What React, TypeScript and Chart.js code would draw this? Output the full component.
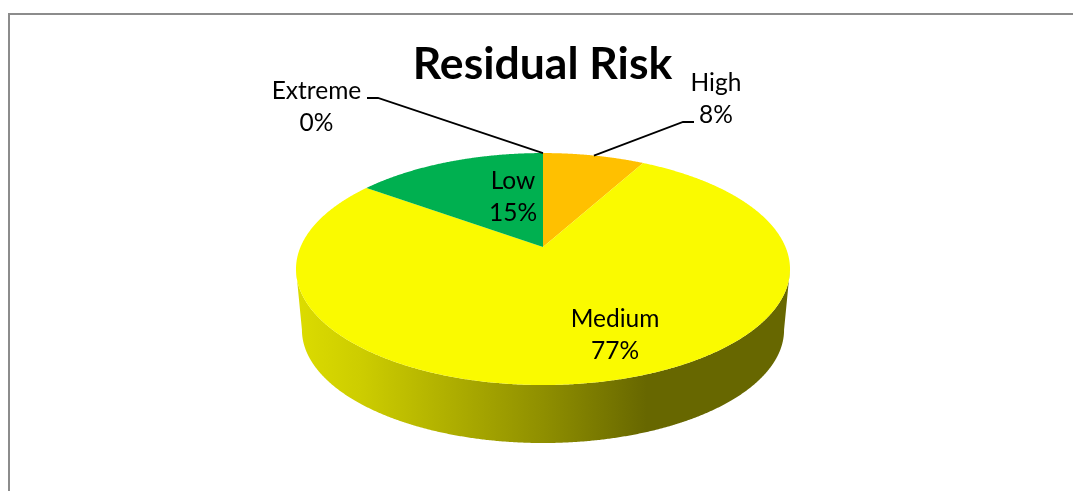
import React, { useEffect, useRef } from "react";
import { Chart, registerables } from "chart.js";

Chart.register(...registerables);

// Slices run clockwise from twelve o'clock.
const categories = ["High", "Medium", "Low", "Extreme"];
const percentages = [8, 77, 15, 0];
const sliceColors = ["#FFC000", "#FAFA00", "#00B050", "#C00000"];
const chartTitle = "Residual Risk";

const WIDTH = 1073;
const HEIGHT = 491;
const FONT = "Lato, 'Open Sans', sans-serif";

// Perspective view of the disc: apex of the slices, half-sizes and foreshortening.
const APEX = { x: 543, y: 247 };
const PERSPECTIVE = 0.19;
const RADIUS_X = 242.5;
const RADIUS_Y = 111.8;
const FLOOR = { dropY: 61.3, scale: 0.976 };

// Label centres, with an optional leader ending on the slice's rim.
const labelPlacement: Record<string, { x: number; y: number; leader?: [number, number][] }> = {
  High: { x: 716, y: 83, leader: [[694, 122], [683, 122]] },
  Medium: { x: 615, y: 319 },
  Low: { x: 513, y: 181 },
  Extreme: { x: 316.5, y: 91, leader: [[367, 98], [378, 98]] },
};
const LINE_GAP = 32;

// Chart.js angle (radians, -PI/2 at the top) to a point on the perspective rim.
function rimPoint(angle: number, floor = false) {
  const u = Math.cos(angle);
  const v = Math.sin(angle);
  const d = 1 - PERSPECTIVE * v;
  const s = floor ? FLOOR.scale : 1;
  return {
    x: APEX.x + (s * RADIUS_X * u) / d,
    y: APEX.y + (floor ? FLOOR.dropY : 0) + (s * RADIUS_Y * v) / d,
  };
}

function rimPath(ctx: CanvasRenderingContext2D, from: number, to: number, floor = false) {
  const steps = Math.max(2, Math.ceil(Math.abs(to - from) / 0.005));
  for (let i = 0; i <= steps; i++) {
    const p = rimPoint(from + ((to - from) * i) / steps, floor);
    ctx.lineTo(p.x, p.y);
  }
}

// Side wall shading, as a brightness factor across the disc's width.
function wallGradient(ctx: CanvasRenderingContext2D, hex: string) {
  const r = parseInt(hex.slice(1, 3), 16);
  const g = parseInt(hex.slice(3, 5), 16);
  const b = parseInt(hex.slice(5, 7), 16);
  const left = APEX.x - 247;
  const span = 494;
  const gradient = ctx.createLinearGradient(left, 0, left + span, 0);
  const stops: [number, number][] = [
    [0, 0.88],
    [0.13, 0.82],
    [0.5, 0.57],
    [0.71, 0.41],
    [1, 0.41],
  ];
  for (const [at, f] of stops) {
    gradient.addColorStop(at, `rgb(${r * f},${g * f},${b * f})`);
  }
  return gradient;
}

const perspectivePie = {
  id: "perspectivePie",
  beforeDraw(chart: Chart) {
    const { ctx } = chart;
    ctx.save();
    ctx.fillStyle = "#FFFFFF";
    ctx.fillRect(0, 0, WIDTH, HEIGHT);
    ctx.strokeStyle = "#8C8C8C";
    ctx.lineWidth = 2;
    ctx.beginPath();
    ctx.moveTo(9, HEIGHT);
    ctx.lineTo(9, 14);
    ctx.lineTo(WIDTH, 14);
    ctx.stroke();
    ctx.restore();
  },
  beforeDatasetsDraw(chart: Chart) {
    const { ctx } = chart;
    const arcs = chart.getDatasetMeta(0).data as any[];
    const frontStart = Math.asin(PERSPECTIVE);
    const frontEnd = Math.PI - frontStart;
    ctx.save();

    // Side wall under the front half of the rim.
    arcs.forEach((arc, i) => {
      const from = Math.max(arc.startAngle, frontStart);
      const to = Math.min(arc.endAngle, frontEnd);
      if (from >= to) return;
      ctx.beginPath();
      rimPath(ctx, from, to);
      rimPath(ctx, to, from, true);
      ctx.closePath();
      ctx.fillStyle = wallGradient(ctx, sliceColors[i]);
      ctx.fill();
    });

    // Top face.
    arcs.forEach((arc, i) => {
      if (arc.endAngle - arc.startAngle <= 0) return;
      ctx.beginPath();
      ctx.moveTo(APEX.x, APEX.y);
      rimPath(ctx, arc.startAngle, arc.endAngle);
      ctx.closePath();
      ctx.fillStyle = sliceColors[i];
      ctx.fill();
    });

    // Leader lines and value labels.
    ctx.font = `24.5px ${FONT}`;
    ctx.textAlign = "center";
    ctx.textBaseline = "middle";
    arcs.forEach((arc, i) => {
      const place = labelPlacement[categories[i]];
      if (place.leader) {
        const rim = rimPoint((arc.startAngle + arc.endAngle) / 2);
        ctx.beginPath();
        place.leader.forEach(([x, y]) => ctx.lineTo(x, y));
        ctx.lineTo(rim.x, rim.y);
        ctx.strokeStyle = "#000000";
        ctx.lineWidth = 1.8;
        ctx.stroke();
      }
      ctx.fillStyle = "#000000";
      ctx.fillText(categories[i], place.x, place.y);
      ctx.fillText(`${percentages[i]}%`, place.x, place.y + LINE_GAP);
    });

    ctx.restore();
    return false;
  },
};

export default function App() {
  const canvasRef = useRef<HTMLCanvasElement>(null);

  useEffect(() => {
    document.body.style.margin = "0";
    const chart = new Chart(canvasRef.current!, {
      type: "pie",
      data: {
        labels: categories,
        datasets: [{ data: percentages, backgroundColor: sliceColors, borderWidth: 0 }],
      },
      options: {
        responsive: false,
        animation: false,
        layout: { padding: { left: 12 } },
        plugins: {
          legend: { display: false },
          tooltip: { enabled: false },
          title: {
            display: true,
            text: chartTitle,
            color: "#000000",
            font: { family: FONT, size: 44.5, weight: "bold" },
            padding: { top: 38, bottom: 10 },
          },
        },
      },
      plugins: [perspectivePie],
    } as any);
    return () => chart.destroy();
  }, []);

  return <canvas ref={canvasRef} width={WIDTH} height={HEIGHT} style={{ display: "block" }} />;
}
